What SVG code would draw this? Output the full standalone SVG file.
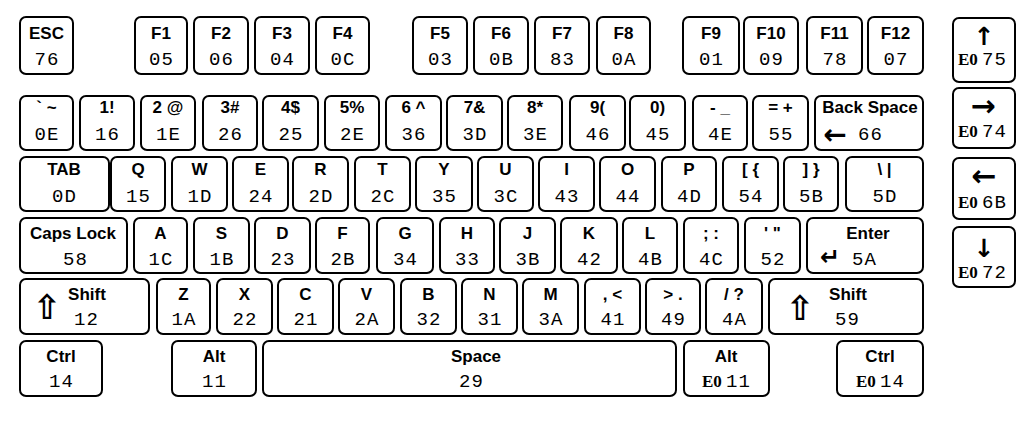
<svg xmlns="http://www.w3.org/2000/svg" width="1036" height="422" viewBox="0 0 1036 422">
<style>
.k{fill:#fff;stroke:#000;stroke-width:2}
.l{font-family:"Liberation Sans",Arial,sans-serif;font-weight:bold;font-size:17px;text-anchor:middle;fill:#000}
.c{font-family:"Liberation Mono","Courier New",monospace;font-size:19px;letter-spacing:1px;text-anchor:middle;fill:#000}
.cs{font-family:"Liberation Mono","Courier New",monospace;font-size:19px;letter-spacing:1px;fill:#000}
.e{font-family:"Liberation Serif","Times New Roman",serif;font-weight:bold;font-size:17px;letter-spacing:0}
.a{font-family:"DejaVu Sans",sans-serif;font-weight:bold;text-anchor:middle;fill:#000}
</style>
<rect width="1036" height="422" fill="#fff"/>
<g id="keys">
<!-- Row 1 -->
<g id="k-esc"><rect class="k" x="20" y="17" width="53" height="57" rx="6"/><text class="l" x="46.5" y="39">ESC</text><text class="c" x="47" y="65">76</text></g>
<g id="k-f1"><rect class="k" x="135" y="17" width="52" height="57" rx="6"/><text class="l" x="161" y="39">F1</text><text class="c" x="161.5" y="65">05</text></g>
<g id="k-f2"><rect class="k" x="194" y="17" width="54" height="57" rx="6"/><text class="l" x="221" y="39">F2</text><text class="c" x="221.5" y="65">06</text></g>
<g id="k-f3"><rect class="k" x="255" y="17" width="54" height="57" rx="6"/><text class="l" x="282" y="39">F3</text><text class="c" x="282.5" y="65">04</text></g>
<g id="k-f4"><rect class="k" x="316" y="17" width="53" height="57" rx="6"/><text class="l" x="342.5" y="39">F4</text><text class="c" x="343" y="65">0C</text></g>
<g id="k-f5"><rect class="k" x="413" y="17" width="54" height="57" rx="6"/><text class="l" x="440" y="39">F5</text><text class="c" x="440.5" y="65">03</text></g>
<g id="k-f6"><rect class="k" x="474" y="17" width="54" height="57" rx="6"/><text class="l" x="501" y="39">F6</text><text class="c" x="501.5" y="65">0B</text></g>
<g id="k-f7"><rect class="k" x="535" y="17" width="54" height="57" rx="6"/><text class="l" x="562" y="39">F7</text><text class="c" x="562.5" y="65">83</text></g>
<g id="k-f8"><rect class="k" x="597" y="17" width="53" height="57" rx="6"/><text class="l" x="623.5" y="39">F8</text><text class="c" x="624" y="65">0A</text></g>
<g id="k-f9"><rect class="k" x="683" y="17" width="56" height="57" rx="6"/><text class="l" x="711" y="39">F9</text><text class="c" x="711.5" y="65">01</text></g>
<g id="k-f10"><rect class="k" x="744" y="17" width="54" height="57" rx="6"/><text class="l" x="771" y="39">F10</text><text class="c" x="771.5" y="65">09</text></g>
<g id="k-f11"><rect class="k" x="807" y="17" width="55" height="57" rx="6"/><text class="l" x="834.5" y="39">F11</text><text class="c" x="835" y="65">78</text></g>
<g id="k-f12"><rect class="k" x="868" y="17" width="55" height="57" rx="6"/><text class="l" x="895.5" y="39">F12</text><text class="c" x="896" y="65">07</text></g>
<!-- Row 2 -->
<g id="k-tilde"><rect class="k" x="20" y="96" width="53" height="54" rx="6"/><text class="l" x="46.5" y="113">` ~</text><text class="c" x="47" y="140">0E</text></g>
<g id="k-1"><rect class="k" x="80" y="96" width="54" height="54" rx="6"/><text class="l" x="107" y="113">1!</text><text class="c" x="107.5" y="140">16</text></g>
<g id="k-2"><rect class="k" x="141" y="96" width="54" height="54" rx="6"/><text class="l" x="168" y="113">2 @</text><text class="c" x="168.5" y="140">1E</text></g>
<g id="k-3"><rect class="k" x="203" y="96" width="54" height="54" rx="6"/><text class="l" x="230" y="113">3#</text><text class="c" x="230.5" y="140">26</text></g>
<g id="k-4"><rect class="k" x="263" y="96" width="55" height="54" rx="6"/><text class="l" x="290.5" y="113">4$</text><text class="c" x="291" y="140">25</text></g>
<g id="k-5"><rect class="k" x="325" y="96" width="54" height="54" rx="6"/><text class="l" x="352" y="113">5%</text><text class="c" x="352.5" y="140">2E</text></g>
<g id="k-6"><rect class="k" x="386" y="96" width="55" height="54" rx="6"/><text class="l" x="413.5" y="113">6 ^</text><text class="c" x="414" y="140">36</text></g>
<g id="k-7"><rect class="k" x="447" y="96" width="55" height="54" rx="6"/><text class="l" x="474.5" y="113">7&amp;</text><text class="c" x="475" y="140">3D</text></g>
<g id="k-8"><rect class="k" x="508" y="96" width="54" height="54" rx="6"/><text class="l" x="535" y="113">8*</text><text class="c" x="535.5" y="140">3E</text></g>
<g id="k-9"><rect class="k" x="570" y="96" width="55" height="54" rx="6"/><text class="l" x="597.5" y="113">9(</text><text class="c" x="598" y="140">46</text></g>
<g id="k-0"><rect class="k" x="630" y="96" width="55" height="54" rx="6"/><text class="l" x="657.5" y="113">0)</text><text class="c" x="658" y="140">45</text></g>
<g id="k-minus"><rect class="k" x="693" y="96" width="54" height="54" rx="6"/><text class="l" x="720" y="113">- _</text><text class="c" x="720.5" y="140">4E</text></g>
<g id="k-equal"><rect class="k" x="753" y="96" width="55" height="54" rx="6"/><text class="l" x="780.5" y="113">= +</text><text class="c" x="781" y="140">55</text></g>
<g id="k-backspace"><rect class="k" x="815" y="96" width="108" height="54" rx="6"/><text class="l" x="870" y="113">Back Space</text><text class="a" x="835" y="144" font-size="28">←</text><text class="cs" x="858" y="140">66</text></g>
<!-- Row 3 -->
<g id="k-tab"><rect class="k" x="20" y="157" width="89" height="54" rx="6"/><text class="l" x="64" y="175">TAB</text><text class="c" x="64.5" y="202">0D</text></g>
<g id="k-q"><rect class="k" x="111" y="157" width="54" height="54" rx="6"/><text class="l" x="138" y="175">Q</text><text class="c" x="138.5" y="202">15</text></g>
<g id="k-w"><rect class="k" x="172" y="157" width="55" height="54" rx="6"/><text class="l" x="199.5" y="175">W</text><text class="c" x="200" y="202">1D</text></g>
<g id="k-e"><rect class="k" x="233" y="157" width="55" height="54" rx="6"/><text class="l" x="260.5" y="175">E</text><text class="c" x="261" y="202">24</text></g>
<g id="k-r"><rect class="k" x="293" y="157" width="55" height="54" rx="6"/><text class="l" x="320.5" y="175">R</text><text class="c" x="321" y="202">2D</text></g>
<g id="k-t"><rect class="k" x="355" y="157" width="55" height="54" rx="6"/><text class="l" x="382.5" y="175">T</text><text class="c" x="383" y="202">2C</text></g>
<g id="k-y"><rect class="k" x="416" y="157" width="56" height="54" rx="6"/><text class="l" x="444" y="175">Y</text><text class="c" x="444.5" y="202">35</text></g>
<g id="k-u"><rect class="k" x="478" y="157" width="55" height="54" rx="6"/><text class="l" x="505.5" y="175">U</text><text class="c" x="506" y="202">3C</text></g>
<g id="k-i"><rect class="k" x="539" y="157" width="55" height="54" rx="6"/><text class="l" x="566.5" y="175">I</text><text class="c" x="567" y="202">43</text></g>
<g id="k-o"><rect class="k" x="600" y="157" width="55" height="54" rx="6"/><text class="l" x="627.5" y="175">O</text><text class="c" x="628" y="202">44</text></g>
<g id="k-p"><rect class="k" x="662" y="157" width="54" height="54" rx="6"/><text class="l" x="689" y="175">P</text><text class="c" x="689.5" y="202">4D</text></g>
<g id="k-lbracket"><rect class="k" x="723" y="157" width="55" height="54" rx="6"/><text class="l" x="750.5" y="175">[ {</text><text class="c" x="751" y="202">54</text></g>
<g id="k-rbracket"><rect class="k" x="784" y="157" width="54" height="54" rx="6"/><text class="l" x="811" y="175">] }</text><text class="c" x="811.5" y="202">5B</text></g>
<g id="k-backslash"><rect class="k" x="846" y="157" width="77" height="54" rx="6"/><text class="l" x="884.5" y="175">\ |</text><text class="c" x="885" y="202">5D</text></g>
<!-- Row 4 -->
<g id="k-capslock"><rect class="k" x="20" y="218" width="107" height="55" rx="6"/><text class="l" x="73" y="239">Caps Lock</text><text class="c" x="75.5" y="265">58</text></g>
<g id="k-a"><rect class="k" x="134" y="218" width="53" height="55" rx="6"/><text class="l" x="160.5" y="239">A</text><text class="c" x="161" y="265">1C</text></g>
<g id="k-s"><rect class="k" x="194" y="218" width="55" height="55" rx="6"/><text class="l" x="221.5" y="239">S</text><text class="c" x="222" y="265">1B</text></g>
<g id="k-d"><rect class="k" x="255" y="218" width="55" height="55" rx="6"/><text class="l" x="282.5" y="239">D</text><text class="c" x="283" y="265">23</text></g>
<g id="k-f"><rect class="k" x="316" y="218" width="53" height="55" rx="6"/><text class="l" x="342.5" y="239">F</text><text class="c" x="343" y="265">2B</text></g>
<g id="k-g"><rect class="k" x="377" y="218" width="56" height="55" rx="6"/><text class="l" x="405" y="239">G</text><text class="c" x="405.5" y="265">34</text></g>
<g id="k-h"><rect class="k" x="440" y="218" width="54" height="55" rx="6"/><text class="l" x="467" y="239">H</text><text class="c" x="467.5" y="265">33</text></g>
<g id="k-j"><rect class="k" x="500" y="218" width="55" height="55" rx="6"/><text class="l" x="527.5" y="239">J</text><text class="c" x="528" y="265">3B</text></g>
<g id="k-k"><rect class="k" x="561" y="218" width="56" height="55" rx="6"/><text class="l" x="589" y="239">K</text><text class="c" x="589.5" y="265">42</text></g>
<g id="k-l"><rect class="k" x="623" y="218" width="54" height="55" rx="6"/><text class="l" x="650" y="239">L</text><text class="c" x="650.5" y="265">4B</text></g>
<g id="k-semicolon"><rect class="k" x="684" y="218" width="54" height="55" rx="6"/><text class="l" x="711" y="239">; :</text><text class="c" x="711.5" y="265">4C</text></g>
<g id="k-quote"><rect class="k" x="745" y="218" width="55" height="55" rx="6"/><text class="l" x="772.5" y="239">' "</text><text class="c" x="773" y="265">52</text></g>
<g id="k-enter"><rect class="k" x="807" y="218" width="116" height="55" rx="6"/><text class="l" x="868" y="239">Enter</text><text class="a" x="830" y="265" font-size="24">↵</text><text class="cs" x="852" y="265">5A</text></g>
<!-- Row 5 -->
<g id="k-lshift"><rect class="k" x="20" y="279" width="129" height="55" rx="6"/><text class="a" x="47" y="319" font-size="34">⇧</text><text class="l" x="87" y="300">Shift</text><text class="c" x="86.5" y="325">12</text></g>
<g id="k-z"><rect class="k" x="157" y="279" width="53" height="55" rx="6"/><text class="l" x="183.5" y="300">Z</text><text class="c" x="184" y="325">1A</text></g>
<g id="k-x"><rect class="k" x="217" y="279" width="55" height="55" rx="6"/><text class="l" x="244.5" y="300">X</text><text class="c" x="245" y="325">22</text></g>
<g id="k-c"><rect class="k" x="278" y="279" width="55" height="55" rx="6"/><text class="l" x="305.5" y="300">C</text><text class="c" x="306" y="325">21</text></g>
<g id="k-v"><rect class="k" x="339" y="279" width="55" height="55" rx="6"/><text class="l" x="366.5" y="300">V</text><text class="c" x="367" y="325">2A</text></g>
<g id="k-b"><rect class="k" x="401" y="279" width="55" height="55" rx="6"/><text class="l" x="428.5" y="300">B</text><text class="c" x="429" y="325">32</text></g>
<g id="k-n"><rect class="k" x="462" y="279" width="55" height="55" rx="6"/><text class="l" x="489.5" y="300">N</text><text class="c" x="490" y="325">31</text></g>
<g id="k-m"><rect class="k" x="523" y="279" width="55" height="55" rx="6"/><text class="l" x="550.5" y="300">M</text><text class="c" x="551" y="325">3A</text></g>
<g id="k-comma"><rect class="k" x="585" y="279" width="55" height="55" rx="6"/><text class="l" x="612.5" y="300">, &lt;</text><text class="c" x="613" y="325">41</text></g>
<g id="k-period"><rect class="k" x="646" y="279" width="54" height="55" rx="6"/><text class="l" x="673" y="300">&gt; .</text><text class="c" x="673.5" y="325">49</text></g>
<g id="k-slash"><rect class="k" x="706" y="279" width="56" height="55" rx="6"/><text class="l" x="734" y="300">/ ?</text><text class="c" x="734.5" y="325">4A</text></g>
<g id="k-rshift"><rect class="k" x="769" y="279" width="154" height="55" rx="6"/><text class="a" x="800" y="320" font-size="34">⇧</text><text class="l" x="848" y="300">Shift</text><text class="c" x="847.5" y="325">59</text></g>
<!-- Row 6 -->
<g id="k-lctrl"><rect class="k" x="20" y="341" width="82" height="55" rx="6"/><text class="l" x="61" y="362">Ctrl</text><text class="c" x="61.5" y="387">14</text></g>
<g id="k-lalt"><rect class="k" x="172" y="341" width="84" height="55" rx="6"/><text class="l" x="214" y="362">Alt</text><text class="c" x="214.5" y="387">11</text></g>
<g id="k-space"><rect class="k" x="263" y="341" width="413" height="55" rx="6"/><text class="l" x="476" y="362">Space</text><text class="c" x="471.5" y="387">29</text></g>
<g id="k-ralt"><rect class="k" x="684" y="341" width="85" height="55" rx="6"/><text class="l" x="726" y="362">Alt</text><text class="cs" x="702" y="387"><tspan class="e">E0 </tspan>11</text></g>
<g id="k-rctrl"><rect class="k" x="837" y="341" width="86" height="55" rx="6"/><text class="l" x="880" y="362">Ctrl</text><text class="cs" x="856" y="387"><tspan class="e">E0 </tspan>14</text></g>
<!-- Arrow keys -->
<g id="k-up"><rect class="k" x="953" y="18" width="62" height="64" rx="6"/><text class="a" x="984" y="45" font-size="25">↑</text><text class="cs" x="958" y="65"><tspan class="e">E0 </tspan>75</text></g>
<g id="k-right"><rect class="k" x="953" y="88" width="62" height="60" rx="6"/><text class="a" x="983" y="116" font-size="30">→</text><text class="cs" x="958" y="137"><tspan class="e">E0 </tspan>74</text></g>
<g id="k-left"><rect class="k" x="953" y="158" width="62" height="61" rx="6"/><text class="a" x="984" y="186" font-size="30">←</text><text class="cs" x="958" y="208"><tspan class="e">E0 </tspan>6B</text></g>
<g id="k-down"><rect class="k" x="953" y="227" width="62" height="60" rx="6"/><text class="a" x="984" y="257" font-size="25">↓</text><text class="cs" x="958" y="278"><tspan class="e">E0 </tspan>72</text></g>
</g>
</svg>
